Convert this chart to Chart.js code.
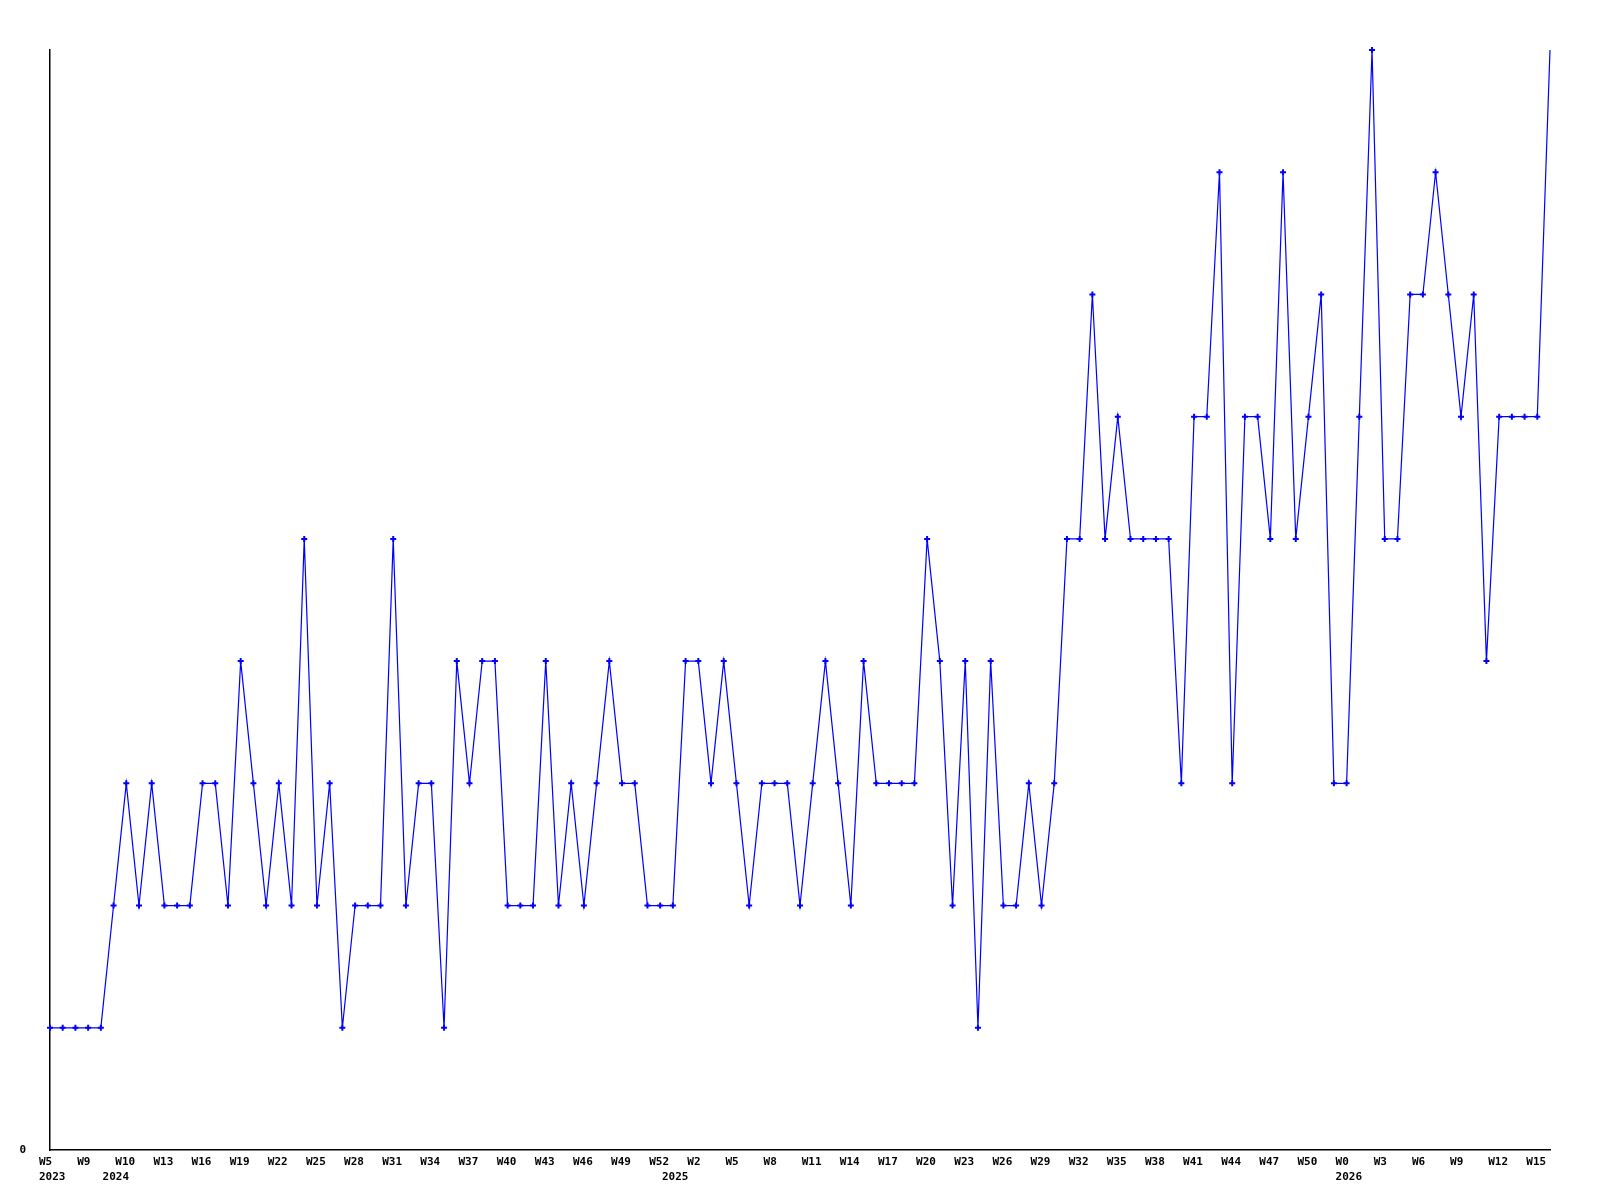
<!DOCTYPE html>
<html>
<head>
<meta charset="utf-8">
<title>Weekly count</title>
<script src="https://cdn.jsdelivr.net/npm/chart.js@4/dist/chart.umd.min.js"></script>
<style>
	body { margin: 0; background: #fff; }
	#chart-weeks { display: block; }
</style>
</head>
<body>
<canvas id="chart-weeks" width="1600" height="1200"></canvas>
<script>
// Week of each point (only every third one is labelled on the axis)
var weeks = [
	"W5", "W6", "W8", "W9", "W10",
	"W9", "W10", "W11", "W12", "W13", "W14", "W15", "W16", "W17", "W18", "W19", "W20", "W21", "W22",
	"W23", "W24", "W25", "W26", "W27", "W28", "W29", "W30", "W31", "W32", "W33", "W34", "W35", "W36",
	"W37", "W38", "W39", "W40", "W41", "W42", "W43", "W44", "W45", "W46", "W47", "W48", "W49", "W50",
	"W51", "W52",
	"W0", "W1", "W2", "W3", "W4", "W5", "W6", "W7", "W8", "W9", "W10", "W11", "W12", "W13", "W14",
	"W15", "W16", "W17", "W18", "W19", "W20", "W21", "W22", "W23", "W24", "W25", "W26", "W27", "W28",
	"W29", "W30", "W31", "W32", "W33", "W34", "W35", "W36", "W37", "W38", "W39", "W40", "W41", "W42",
	"W43", "W44", "W45", "W46", "W47", "W48", "W49", "W50", "W51", "W52",
	"W0", "W1", "W2", "W3", "W4", "W5", "W6", "W7", "W8", "W9", "W10", "W11", "W12", "W13", "W14",
	"W15", "W16"
];

var years = [
	2023, 2023, 2023, 2023, 2023,
	2024, 2024, 2024, 2024, 2024, 2024, 2024, 2024, 2024, 2024, 2024, 2024, 2024, 2024,
	2024, 2024, 2024, 2024, 2024, 2024, 2024, 2024, 2024, 2024, 2024, 2024, 2024, 2024,
	2024, 2024, 2024, 2024, 2024, 2024, 2024, 2024, 2024, 2024, 2024, 2024, 2024, 2024,
	2024, 2024,
	2025, 2025, 2025, 2025, 2025, 2025, 2025, 2025, 2025, 2025, 2025, 2025, 2025, 2025, 2025,
	2025, 2025, 2025, 2025, 2025, 2025, 2025, 2025, 2025, 2025, 2025, 2025, 2025, 2025,
	2025, 2025, 2025, 2025, 2025, 2025, 2025, 2025, 2025, 2025, 2025, 2025, 2025, 2025,
	2025, 2025, 2025, 2025, 2025, 2025, 2025, 2025, 2025, 2025,
	2026, 2026, 2026, 2026, 2026, 2026, 2026, 2026, 2026, 2026, 2026, 2026, 2026, 2026, 2026,
	2026, 2026
];

var counts = [
	1, 1, 1, 1, 1,
	2, 3, 2, 3, 2,
	2, 2, 3, 3, 2,
	4, 3, 2, 3, 2,
	5, 2, 3, 1, 2,
	2, 2, 5, 2, 3,
	3, 1, 4, 3, 4,
	4, 2, 2, 2, 4,
	2, 3, 2, 3, 4,
	3, 3, 2, 2, 2,
	4, 4, 3, 4, 3,
	2, 3, 3, 3, 2,
	3, 4, 3, 2, 4,
	3, 3, 3, 3, 5,
	4, 2, 4, 1, 4,
	2, 2, 3, 2, 3,
	5, 5, 7, 5, 6,
	5, 5, 5, 5, 3,
	6, 6, 8, 3, 6,
	6, 5, 8, 5, 6,
	7, 3, 3, 6, 9,
	5, 5, 7, 7, 8,
	7, 6, 7, 4, 6,
	6, 6, 6, 9
];

var Y_MAX = 9;
var LABEL_EVERY = 3;

function weekLabel(index) {
	var line1 = index % LABEL_EVERY == 0 ? weeks[index] : "";
	var line2 = "";

	// The year goes under the first point of every year
	if (index == 0 || years[index] != years[index - 1]) {
		line2 = String(years[index]);
	}

	if (line1 == "" && line2 == "") {
		return "";
	}
	return [line1, line2];
}

// Last point sits on the top edge and has no marker
var pointSizes = [];
for (var i = 0; i < counts.length; ++i) {
	pointSizes.push(i == counts.length - 1 ? 0 : 3);
}

var tickFont = {
	family: "'DejaVu Sans Mono', monospace",
	size: 11,
	weight: "bold",
	lineHeight: "15px"
};

var ctx = document.getElementById("chart-weeks").getContext("2d");
var chart = new Chart(ctx, {
	type: "line",
	data: {
		labels: weeks,
		datasets: [
			{
				data: counts,
				borderColor: "#0000ff",
				borderWidth: 1.2,
				backgroundColor: "#0000ff",
				pointStyle: "cross",
				pointRadius: pointSizes,
				pointBorderWidth: 2,
				pointBorderColor: "#0000ff",
				fill: false,
				tension: 0,
				clip: false
			}
		]
	},
	options: {
		responsive: false,
		animation: false,
		devicePixelRatio: 1,
		layout: {
			padding: { top: 50, right: 50, left: 0, bottom: 0 }
		},
		plugins: {
			legend: { display: false },
			tooltip: { enabled: false }
		},
		scales: {
			x: {
				offset: false,
				grid: { display: false, drawTicks: false },
				border: { display: true, color: "#000", width: 1.5 },
				ticks: {
					autoSkip: false,
					maxRotation: 0,
					minRotation: 0,
					align: "start",
					labelOffset: -11,
					padding: 5,
					color: "#000",
					font: tickFont,
					callback: function(value, index) {
						return weekLabel(index);
					}
				},
				afterFit: function(scale) {
					scale.height = 50;
				}
			},
			y: {
				min: 0,
				max: Y_MAX,
				grid: { display: false, drawTicks: false },
				border: { display: true, color: "#000", width: 1.5 },
				ticks: {
					stepSize: Y_MAX,
					padding: 24,
					color: "#000",
					font: tickFont,
					callback: function(value) {
						return value == 0 ? "0" : "";
					}
				},
				afterFit: function(scale) {
					scale.width = 50;
				}
			}
		}
	}
});
</script>
</body>
</html>
